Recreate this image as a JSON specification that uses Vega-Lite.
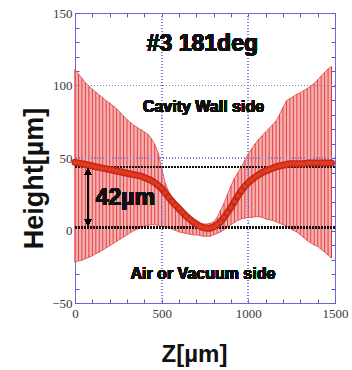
{
  "$schema": "https://vega.github.io/schema/vega-lite/v6.json",
  "autosize": "none",
  "width": 260,
  "height": 290,
  "padding": {"left": 75, "top": 13, "right": 17, "bottom": 67},
  "background": "white",
  "config": {
    "view": {"stroke": "#6a6ad8", "strokeWidth": 1},
    "axis": {
      "domain": false,
      "grid": false,
      "labelFont": "Liberation Serif",
      "labelFontSize": 13,
      "labelColor": "#3a3a3a",
      "labelFlush": false,
      "tickColor": "#5a5ad0",
      "tickSize": -4,
      "titleFont": "Liberation Sans",
      "titleFontWeight": "bold",
      "titleColor": "#111"
    },
    "text": {"font": "Liberation Sans", "fontWeight": "bold", "color": "#111", "align": "center", "baseline": "middle"}
  },
  "data": {
    "values": [
      {"z": 0, "mean": 47, "lo": -22, "hi": 111},
      {"z": 20, "mean": 46.5, "lo": -21, "hi": 108},
      {"z": 40, "mean": 46, "lo": -20.5, "hi": 105},
      {"z": 60, "mean": 45.5, "lo": -19.5, "hi": 102},
      {"z": 80, "mean": 45, "lo": -18.5, "hi": 99.5},
      {"z": 100, "mean": 44.5, "lo": -17.5, "hi": 97.5},
      {"z": 120, "mean": 44, "lo": -16, "hi": 95.5},
      {"z": 140, "mean": 43.5, "lo": -15, "hi": 93.5},
      {"z": 160, "mean": 43, "lo": -13.5, "hi": 91.5},
      {"z": 180, "mean": 42.5, "lo": -12, "hi": 89.5},
      {"z": 200, "mean": 42, "lo": -10.5, "hi": 88},
      {"z": 220, "mean": 41.5, "lo": -9, "hi": 86},
      {"z": 240, "mean": 41, "lo": -7.5, "hi": 84},
      {"z": 260, "mean": 40.5, "lo": -6, "hi": 81.5},
      {"z": 280, "mean": 40, "lo": -4.5, "hi": 79},
      {"z": 300, "mean": 39.5, "lo": -3, "hi": 76.5},
      {"z": 320, "mean": 39, "lo": -1.5, "hi": 74.5},
      {"z": 340, "mean": 38.5, "lo": 0, "hi": 72.5},
      {"z": 360, "mean": 38, "lo": 1, "hi": 71},
      {"z": 380, "mean": 37.5, "lo": 2, "hi": 69.5},
      {"z": 400, "mean": 36.5, "lo": 3, "hi": 68},
      {"z": 420, "mean": 35.5, "lo": 3.5, "hi": 66.5},
      {"z": 440, "mean": 34.5, "lo": 4, "hi": 63.5},
      {"z": 460, "mean": 33, "lo": 4, "hi": 59.5},
      {"z": 480, "mean": 31, "lo": 3.5, "hi": 53.5},
      {"z": 500, "mean": 29, "lo": 3, "hi": 43},
      {"z": 520, "mean": 26, "lo": 2.5, "hi": 33},
      {"z": 540, "mean": 23, "lo": 2, "hi": 27},
      {"z": 560, "mean": 20, "lo": 1, "hi": 22},
      {"z": 580, "mean": 17.5, "lo": 0, "hi": 19},
      {"z": 600, "mean": 15, "lo": -1, "hi": 16.5},
      {"z": 620, "mean": 12.5, "lo": -1.5, "hi": 14},
      {"z": 640, "mean": 10, "lo": -2, "hi": 12},
      {"z": 660, "mean": 8, "lo": -2.5, "hi": 10},
      {"z": 680, "mean": 6, "lo": -3, "hi": 8},
      {"z": 700, "mean": 4.5, "lo": -3, "hi": 6.5},
      {"z": 720, "mean": 3, "lo": -3.5, "hi": 5},
      {"z": 740, "mean": 2, "lo": -4, "hi": 4.5},
      {"z": 760, "mean": 1.5, "lo": -4, "hi": 4.5},
      {"z": 780, "mean": 1.5, "lo": -4, "hi": 5},
      {"z": 800, "mean": 2.5, "lo": -3, "hi": 6},
      {"z": 820, "mean": 4, "lo": -2, "hi": 9},
      {"z": 840, "mean": 6, "lo": -1, "hi": 14},
      {"z": 860, "mean": 9, "lo": 0.5, "hi": 19},
      {"z": 880, "mean": 12.5, "lo": 2.5, "hi": 25},
      {"z": 900, "mean": 16, "lo": 4, "hi": 31},
      {"z": 920, "mean": 20, "lo": 5.5, "hi": 36},
      {"z": 940, "mean": 24, "lo": 7, "hi": 40},
      {"z": 960, "mean": 27.5, "lo": 8, "hi": 44},
      {"z": 980, "mean": 30.5, "lo": 8.5, "hi": 48.5},
      {"z": 1000, "mean": 33, "lo": 9, "hi": 53},
      {"z": 1020, "mean": 35, "lo": 9, "hi": 56.5},
      {"z": 1040, "mean": 37, "lo": 9.5, "hi": 60},
      {"z": 1060, "mean": 38.5, "lo": 9.5, "hi": 63},
      {"z": 1080, "mean": 40, "lo": 9, "hi": 65.5},
      {"z": 1100, "mean": 41, "lo": 8, "hi": 68},
      {"z": 1120, "mean": 42, "lo": 7.5, "hi": 70.5},
      {"z": 1140, "mean": 43, "lo": 7, "hi": 73},
      {"z": 1160, "mean": 44, "lo": 6, "hi": 75.5},
      {"z": 1180, "mean": 44.5, "lo": 5, "hi": 80},
      {"z": 1200, "mean": 45, "lo": 4, "hi": 85},
      {"z": 1220, "mean": 45.5, "lo": 3, "hi": 89.5},
      {"z": 1240, "mean": 46, "lo": 1.5, "hi": 91},
      {"z": 1260, "mean": 46, "lo": 0, "hi": 92.5},
      {"z": 1280, "mean": 46, "lo": -1, "hi": 94},
      {"z": 1300, "mean": 46, "lo": -3, "hi": 95},
      {"z": 1320, "mean": 46, "lo": -5, "hi": 96.5},
      {"z": 1340, "mean": 46.5, "lo": -7, "hi": 98},
      {"z": 1360, "mean": 46.5, "lo": -8.5, "hi": 99.5},
      {"z": 1380, "mean": 46.5, "lo": -10, "hi": 101.5},
      {"z": 1400, "mean": 46.5, "lo": -11, "hi": 104},
      {"z": 1420, "mean": 46.5, "lo": -13, "hi": 106.5},
      {"z": 1440, "mean": 46.5, "lo": -15, "hi": 109},
      {"z": 1460, "mean": 46.5, "lo": -17, "hi": 111.5},
      {"z": 1480, "mean": 46.5, "lo": -19, "hi": 113}
    ]
  },
  "resolve": {"axis": {"x": "independent", "y": "independent"}},
  "layer": [
    {
      "mark": {"type": "area", "color": "#f6b0b0", "stroke": "#e04848", "strokeWidth": 0.8},
      "encoding": {
        "x": {
          "field": "z", "type": "quantitative",
          "scale": {"domain": [0, 1500], "nice": false},
          "axis": {
            "orient": "bottom",
            "values": [0, 100, 200, 300, 400, 500, 600, 700, 800, 900, 1000, 1100, 1200, 1300, 1400, 1500],
            "labelExpr": "datum.value % 500 === 0 ? datum.label : ''",
            "format": "d",
            "labelPadding": 8,
            "title": "Z[µm]",
            "titleFontSize": 24,
            "titleX": 119,
            "titleY": 58,
            "titleBaseline": "alphabetic"
          }
        },
        "y": {
          "field": "lo", "type": "quantitative",
          "scale": {"domain": [-50, 150], "nice": false, "zero": false},
          "axis": {
            "orient": "left",
            "values": [-50, -40, -30, -20, -10, 0, 10, 20, 30, 40, 50, 60, 70, 80, 90, 100, 110, 120, 130, 140, 150],
            "labelExpr": "datum.value % 50 === 0 ? datum.label : ''",
            "labelPadding": 7,
            "title": "Height[µm]",
            "titleFontSize": 27,
            "titleAngle": -90,
            "titleAlign": "center",
            "titleBaseline": "middle",
            "titleX": -41,
            "titleY": 165
          }
        },
        "y2": {"field": "hi"}
      }
    },
    {
      "mark": {"type": "rule", "color": "#e03636", "strokeWidth": 0.9},
      "encoding": {
        "x": {
          "field": "z", "type": "quantitative",
          "axis": {
            "orient": "top",
            "values": [0, 100, 200, 300, 400, 500, 600, 700, 800, 900, 1000, 1100, 1200, 1300, 1400, 1500],
            "labels": false,
            "title": null
          }
        },
        "y": {
          "field": "lo", "type": "quantitative",
          "axis": {
            "orient": "right",
            "values": [-50, -40, -30, -20, -10, 0, 10, 20, 30, 40, 50, 60, 70, 80, 90, 100, 110, 120, 130, 140, 150],
            "labels": false,
            "title": null
          }
        },
        "y2": {"field": "hi"}
      }
    },
    {
      "mark": {"type": "rule", "color": "#7f7fe0", "strokeWidth": 0.8, "strokeDash": [1, 2]},
      "encoding": {"x": {"datum": 500, "type": "quantitative", "axis": null}}
    },
    {
      "mark": {"type": "rule", "color": "#7f7fe0", "strokeWidth": 0.8, "strokeDash": [1, 2]},
      "encoding": {"x": {"datum": 1000, "type": "quantitative", "axis": null}}
    },
    {
      "mark": {"type": "rule", "color": "#7f7fe0", "strokeWidth": 0.8, "strokeDash": [1, 2]},
      "encoding": {"y": {"datum": 50, "type": "quantitative", "axis": null}}
    },
    {
      "mark": {"type": "rule", "color": "#7f7fe0", "strokeWidth": 0.8, "strokeDash": [1, 2]},
      "encoding": {"y": {"datum": 100, "type": "quantitative", "axis": null}}
    },
    {
      "mark": {"type": "rule", "color": "#111", "strokeWidth": 1.6, "strokeDash": [1.5, 1.5]},
      "encoding": {"y": {"datum": 44, "type": "quantitative", "axis": null}}
    },
    {
      "mark": {"type": "rule", "color": "#111", "strokeWidth": 1.6, "strokeDash": [1.5, 1.5]},
      "encoding": {"y": {"datum": 2, "type": "quantitative", "axis": null}}
    },
    {
      "mark": {"type": "line", "color": "#c02818", "strokeWidth": 7, "strokeCap": "round", "strokeJoin": "round"},
      "encoding": {
        "x": {"field": "z", "type": "quantitative", "axis": null},
        "y": {"field": "mean", "type": "quantitative", "axis": null}
      }
    },
    {
      "mark": {"type": "point", "filled": true, "color": "#e3391f", "size": 20, "opacity": 1},
      "encoding": {
        "x": {"field": "z", "type": "quantitative", "axis": null},
        "y": {"field": "mean", "type": "quantitative", "axis": null}
      }
    },
    {
      "mark": {"type": "rule", "color": "#000", "strokeWidth": 1.6},
      "encoding": {
        "x": {"datum": 75, "type": "quantitative", "axis": null},
        "y": {"datum": 5, "type": "quantitative", "axis": null},
        "y2": {"datum": 40}
      }
    },
    {
      "mark": {"type": "point", "shape": "triangle-up", "filled": true, "color": "#000", "size": 45, "opacity": 1},
      "encoding": {
        "x": {"datum": 75, "type": "quantitative", "axis": null},
        "y": {"datum": 40.5, "type": "quantitative", "axis": null}
      }
    },
    {
      "mark": {"type": "point", "shape": "triangle-down", "filled": true, "color": "#000", "size": 45, "opacity": 1},
      "encoding": {
        "x": {"datum": 75, "type": "quantitative", "axis": null},
        "y": {"datum": 5.5, "type": "quantitative", "axis": null}
      }
    },
    {
      "mark": {"type": "text", "text": "#3 181deg", "fontSize": 23},
      "encoding": {
        "x": {"datum": 735, "type": "quantitative", "axis": null},
        "y": {"datum": 128.5, "type": "quantitative", "axis": null}
      }
    },
    {
      "mark": {"type": "text", "text": "Cavity Wall side", "fontSize": 16},
      "encoding": {
        "x": {"datum": 741, "type": "quantitative", "axis": null},
        "y": {"datum": 85.5, "type": "quantitative", "axis": null}
      }
    },
    {
      "mark": {"type": "text", "text": "Air or Vacuum side", "fontSize": 16},
      "encoding": {
        "x": {"datum": 738, "type": "quantitative", "axis": null},
        "y": {"datum": -30, "type": "quantitative", "axis": null}
      }
    },
    {
      "mark": {"type": "text", "text": "42µm", "fontSize": 23},
      "encoding": {
        "x": {"datum": 290, "type": "quantitative", "axis": null},
        "y": {"datum": 22.7, "type": "quantitative", "axis": null}
      }
    }
  ]
}
